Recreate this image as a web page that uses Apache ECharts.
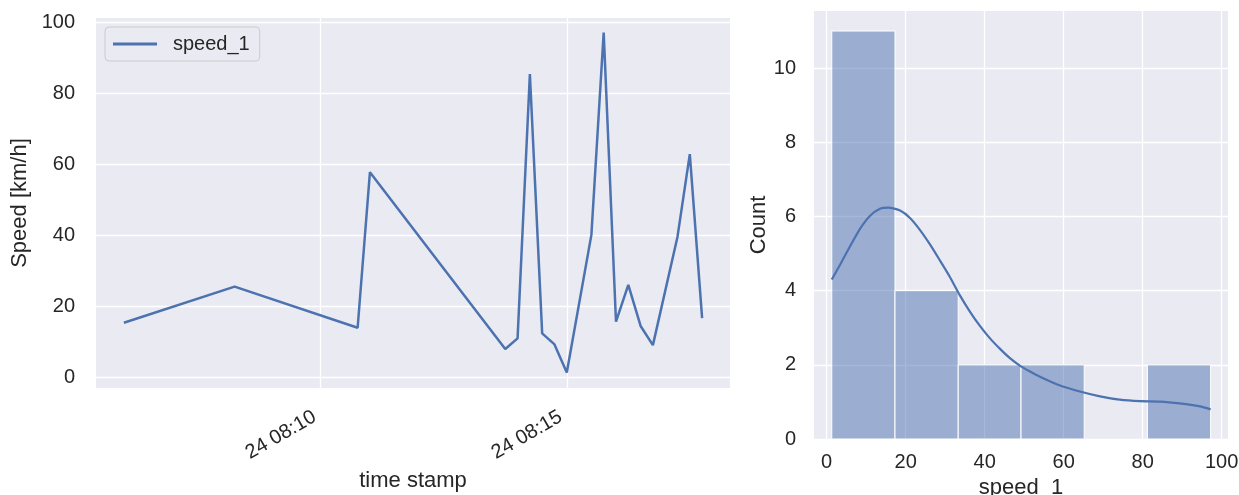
<!DOCTYPE html>
<html>
<head>
<meta charset="utf-8">
<script src="https://cdn.jsdelivr.net/npm/echarts@6/dist/echarts.min.js"></script>
<style>
  html, body { margin: 0; padding: 0; background: #ffffff; }
  #chart { width: 1239px; height: 495px; }
</style>
</head>
<body>
<div id="chart"></div>
<script>
// Speed log of a single sensor on the 24th
const day = '2023-05-24';
const timeStamps = ['08:06:00', '08:08:15', '08:10:45', '08:11:00', '08:13:45', '08:14:00',
  '08:14:15', '08:14:30', '08:14:45', '08:15:00', '08:15:30', '08:15:45', '08:16:00',
  '08:16:15', '08:16:30', '08:16:45', '08:17:15', '08:17:30', '08:17:45'];
const speeds = [15.3, 25.5, 13.9, 57.8, 7.9, 10.9, 85.5, 12.3, 9.2, 1.3, 40.1, 97.2, 15.6,
  26.0, 14.4, 9.0, 39.6, 62.9, 16.6];
const timeTicks = ['08:10:00', '08:15:00'];
const speedTicks = [0, 20, 40, 60, 80, 100];

// Histogram of speed_1 (bin edges, counts) and its density estimate scaled to counts
const binEdges = [1.3, 17.3, 33.3, 49.2, 65.2, 81.2, 97.2];
const binCounts = [11, 4, 2, 2, 0, 2];
const kdeX = [1.3, 3.4, 5.9, 8.4, 11.0, 13.5, 15.6, 18.6, 21.1, 23.6, 26.2, 28.7, 31.2, 33.7,
  36.3, 38.8, 41.3, 43.9, 46.4, 48.9, 51.5, 54.0, 59.1, 64.1, 69.2, 74.2, 79.3, 84.4, 89.4, 94.5, 97.2];
const kdeY = [4.30, 4.70, 5.19, 5.66, 6.02, 6.21, 6.24, 6.16, 5.96, 5.64, 5.24, 4.81, 4.37, 3.88,
  3.43, 3.05, 2.72, 2.43, 2.18, 1.98, 1.82, 1.68, 1.44, 1.28, 1.15, 1.06, 1.02, 1.01, 0.96, 0.88, 0.80];
const countTicks = [0, 2, 4, 6, 8, 10];
const speedBinTicks = [0, 20, 40, 60, 80, 100];

const toMs = s => new Date(day + 'T' + s).getTime();
const pad = n => (n < 10 ? '0' : '') + n;

const FONT = 'Liberation Sans, Arial, sans-serif';
const TEXT = '#262626';
const BLUE = '#4c72b0';
const PANEL = '#eaeaf2';

const lineData = timeStamps.map((s, i) => [toMs(s), speeds[i]]);
const histData = binCounts.map((c, i) => [binEdges[i], binEdges[i + 1], c]);
const kdeData = kdeX.map((x, i) => [x, kdeY[i]]);

const gridLine = { show: true, lineStyle: { color: '#ffffff', width: 1.3 } };
const tickLabel = { color: TEXT, fontSize: 20, fontFamily: FONT };
const axisName = { color: TEXT, fontSize: 22, fontFamily: FONT };

const chart = echarts.init(document.getElementById('chart'), null, { renderer: 'canvas' });

chart.setOption({
  animation: false,
  backgroundColor: '#ffffff',
  grid: [
    { left: 96, top: 18, width: 634, height: 370, show: true, backgroundColor: PANEL,
      borderWidth: 0, outerBoundsMode: 'none' },
    { left: 814, top: 11, width: 414, height: 428, show: true, backgroundColor: PANEL,
      borderWidth: 0, outerBoundsMode: 'none' }
  ],
  legend: {
    data: ['speed_1'],
    left: 105, top: 27,
    orient: 'vertical',
    icon: 'rect',
    itemWidth: 44, itemHeight: 3,
    padding: [7, 10, 7, 8],
    backgroundColor: PANEL,
    borderColor: '#cccccc',
    borderWidth: 1,
    borderRadius: 4,
    textStyle: { color: TEXT, fontSize: 20, fontFamily: FONT, padding: [0, 0, 0, 11] }
  },
  xAxis: [
    {
      gridIndex: 0, type: 'value',
      min: toMs('08:05:26'), max: toMs('08:18:19'),
      name: 'time stamp', nameLocation: 'middle', nameGap: 82, nameTextStyle: axisName,
      axisLine: { show: false },
      axisTick: { show: false, customValues: timeTicks.map(toMs) },
      axisLabel: Object.assign({}, tickLabel, {
        customValues: timeTicks.map(toMs),
        rotate: 30, margin: 24, padding: [0, 7, 0, 0],
        formatter: v => { const d = new Date(v); return pad(d.getDate()) + ' ' + pad(d.getHours()) + ':' + pad(d.getMinutes()); }
      }),
      splitLine: gridLine
    },
    {
      gridIndex: 1, type: 'value', min: -3.2, max: 101.6,
      name: 'speed_1', nameLocation: 'middle', nameGap: 36, nameTextStyle: axisName,
      axisLine: { show: false },
      axisTick: { show: false, customValues: speedBinTicks },
      axisLabel: Object.assign({}, tickLabel, { customValues: speedBinTicks, margin: 13 }),
      splitLine: gridLine
    }
  ],
  yAxis: [
    {
      gridIndex: 0, type: 'value', min: -3.1, max: 101.3,
      name: 'Speed [km/h]', nameLocation: 'middle', nameGap: 62, nameTextStyle: axisName,
      axisLine: { show: false },
      axisTick: { show: false, customValues: speedTicks },
      axisLabel: Object.assign({}, tickLabel, { customValues: speedTicks, margin: 21 }),
      splitLine: gridLine
    },
    {
      gridIndex: 1, type: 'value', min: 0, max: 11.54,
      name: 'Count', nameLocation: 'middle', nameGap: 43, nameTextStyle: axisName,
      axisLine: { show: false },
      axisTick: { show: false, customValues: countTicks },
      axisLabel: Object.assign({}, tickLabel, { customValues: countTicks, margin: 18 }),
      splitLine: gridLine
    }
  ],
  series: [
    {
      name: 'speed_1', type: 'line', xAxisIndex: 0, yAxisIndex: 0,
      data: lineData, showSymbol: false, symbol: 'none',
      lineStyle: { color: BLUE, width: 2.5 }, itemStyle: { color: BLUE }
    },
    {
      name: 'hist', type: 'custom', xAxisIndex: 1, yAxisIndex: 1,
      data: histData,
      encode: { x: [0, 1], y: 2 },
      renderItem: (params, api) => {
        const c = api.value(2);
        if (!c) return null;
        const p0 = api.coord([api.value(0), c]);
        const p1 = api.coord([api.value(1), 0]);
        return {
          type: 'rect',
          shape: { x: p0[0], y: p0[1], width: p1[0] - p0[0], height: p1[1] - p0[1] },
          style: { fill: 'rgba(76,114,176,0.5)', stroke: '#ffffff', lineWidth: 1 }
        };
      },
      z: 2
    },
    {
      name: 'kde', type: 'line', xAxisIndex: 1, yAxisIndex: 1,
      data: kdeData, showSymbol: false, symbol: 'none', smooth: 0.2,
      lineStyle: { color: BLUE, width: 2.2 }, z: 3
    }
  ]
});
</script>
</body>
</html>
